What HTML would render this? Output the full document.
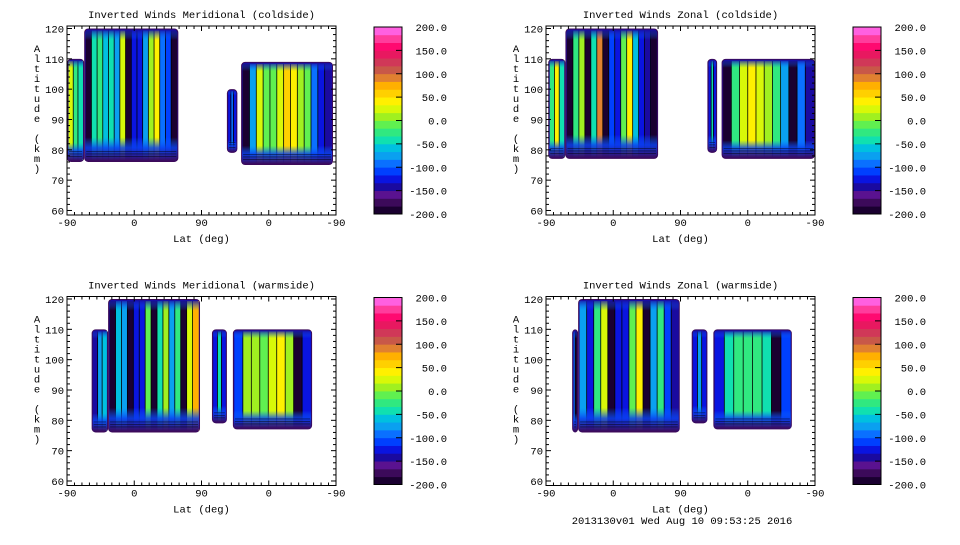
<!DOCTYPE html>
<html><head><meta charset="utf-8"><style>
body{margin:0;background:#fff;}
svg text{font-family:"Liberation Mono",monospace;font-size:10.5px;fill:#000;}
</style></head><body>
<svg id="c" width="960" height="540" xmlns="http://www.w3.org/2000/svg">
<defs>
<linearGradient id="edge" x1="0" y1="0" x2="0" y2="1">
<stop offset="0" stop-color="#1a0aa0" stop-opacity="0.9"/>
<stop offset="0.08" stop-color="#0a70ff" stop-opacity="0"/>
<stop offset="0.82" stop-color="#0a70ff" stop-opacity="0"/>
<stop offset="0.9" stop-color="#0a40f0" stop-opacity="0.85"/>
<stop offset="1" stop-color="#3c0a5a" stop-opacity="1"/>
</linearGradient>
</defs>
</svg>
<script>
// ---- data ----
const panelTitles = ["Inverted Winds Meridional (coldside)","Inverted Winds Zonal (coldside)","Inverted Winds Meridional (warmside)","Inverted Winds Zonal (warmside)"];
const latTickLabels = ["-90","0","90","0","-90"];
const altTickLabels = [60,70,80,90,100,110,120];
const cbarLabels = [200,150,100,50,0,-50,-100,-150,-200];
// regions: [u0,u1 (lat axis units 0-360), altBottom, altTop]
const regionsTL = [[0,23,76,110],[23,149,76,120],[214,228,79,100],[233,356,75,109]];
const regionsTR = [[3,26,77,110],[26,150,77,120],[216,229,79,110],[235,360,77,110]];
const regionsBL = [[33,55,76,110],[55,178,76,120],[194,214,79,110],[222,328,77,110]];
const regionsBR = [[35,43,76,110],[43,179,76,120],[195,216,79,110],[224,329,77,110]];
// column wind values (m/s) per region, left to right
const valuesTL = [[20,-30,-50],[-190,-50,-30,-60,-40,-70,20,-190,-120,-130,-70,0,40,-90,-110,-190],[-130,-100,-130],[-190,-80,30,-10,-10,20,50,40,0,-10,-90,-120,-150]];
const valuesTR = [[-20,40,-40],[-190,-30,0,-190,-40,90,-190,-110,-130,-10,40,-60,-120,-150,-190],[-130,-50,-130],[-190,-20,30,40,30,0,-30,-70,-190,-100,-140]];
const valuesBL = [[-140,-80,-60],[-190,-60,-70,-190,-120,-130,-10,-190,-50,10,-80,-30,-190,20,70],[-130,-40,-130],[-110,0,10,-10,30,40,10,-190,-130]];
const valuesBR = [[-90,-190],[-80,-130,-30,30,-190,-120,-130,-10,40,-190,-70,-20,-110,-140],[-130,-70,-130],[-130,-40,-30,-20,-20,-40,-190,-110]];

const palette=["#1a0030","#3c0a5a","#5a1290","#1a0aa0","#0a14e0","#0040ff","#0a70ff","#0aa0f0","#00c0e0","#10e0b0","#30e880","#60f050","#a0f020","#d8f808","#fff000","#ffd000","#ffb000","#e08030","#c85848","#d03858","#e81860","#ff0a70","#ff3c9c","#ff60e0"];
function col(v){let i=Math.floor((v+200)/400*24);i=Math.max(0,Math.min(23,i));return palette[i];}

const NS="http://www.w3.org/2000/svg";
const svg=document.getElementById('c');
function mk(t,a,p){const e=document.createElementNS(NS,t);for(const k in a)e.setAttribute(k,a[k]);(p||svg).appendChild(e);return e;}

const panels=[
 {x:67,y:0,regions:regionsTL,values:valuesTL},
 {x:546,y:0,regions:regionsTR,values:valuesTR},
 {x:67,y:270.5,regions:regionsBL,values:valuesBL},
 {x:546,y:270.5,regions:regionsBR,values:valuesBR}];
const PW=269;
panels.forEach((p,pi)=>{
  const g=mk('g',{});
  
  
  const xs=u=>p.x+u*PW/360;
  const ys=a=>p.y+28.5+(120-a)*3.033;
  const top=p.y+26,bot=p.y+215;
  p.regions.forEach((r,ri)=>{
    const x0=xs(r[0]),x1=xs(r[1]),y0=ys(r[3]),y1=ys(r[2]);
    const rg=mk('g',{},g);
    
    
    const w=x1-x0,h=y1-y0;
    mk('rect',{x:x0,y:y0,width:w,height:h,rx:4,fill:'#3c0a5a'},rg);
    mk('rect',{x:x0+1,y:y0+1,width:Math.max(0,w-2),height:h-2,rx:3,fill:'#1a0aa0'},rg);
    const vals=p.values[ri],n=vals.length,cw=(w-3)/n;
    vals.forEach((v,k)=>{
      const c=mk('rect',{x:x0+1.5+k*cw,y:y0+2,width:cw+0.3,height:h-4,fill:col(v)},rg);
      
      
      if(k>0)mk('line',{x1:x0+1.5+k*cw,x2:x0+1.5+k*cw,y1:y0+2,y2:y1-2,stroke:'#000','stroke-width':0.8},rg);
    });
    mk('rect',{x:x0+1,y:y0+1,width:Math.max(0,w-2),height:h-2,rx:3,fill:'url(#edge)'},rg);
    for(let k=1;k<4;k++){mk('line',{x1:x0+2,x2:x1-2,y1:y1-3-k*2.5,y2:y1-3-k*2.5,stroke:'#000','stroke-width':0.6,opacity:0.7},rg);}
  });
  const fr=mk('rect',{x:p.x,y:top,width:PW,height:bot-top,fill:'none',stroke:'#000','stroke-width':1},g);
  
  
  for(let u=0;u<=360;u+=10){const L=(u%90==0)?5:3;
    mk('line',{x1:xs(u),x2:xs(u),y1:bot,y2:bot-L,stroke:'#000'},g);
    mk('line',{x1:xs(u),x2:xs(u),y1:top,y2:top+L,stroke:'#000'},g);}
  for(let a=60;a<=120;a+=2){const L=(a%10==0)?5:3;
    mk('line',{x1:p.x,x2:p.x+L,y1:ys(a),y2:ys(a),stroke:'#000'},g);
    mk('line',{x1:p.x+PW,x2:p.x+PW-L,y1:ys(a),y2:ys(a),stroke:'#000'},g);}
  latTickLabels.forEach((l,i)=>{const t=mk('text',{x:xs(i*90),y:bot+11,'text-anchor':'middle'},g);t.textContent=l;
    });
  altTickLabels.forEach(a=>{const t=mk('text',{x:p.x-3,y:ys(a)+4,'text-anchor':'end'},g);t.textContent=a;
    });
  const ti=mk('text',{x:p.x+PW/2,y:p.y+18,'text-anchor':'middle'},g);ti.textContent=panelTitles[pi];
  
  const xl=mk('text',{x:p.x+PW/2,y:bot+27,'text-anchor':'middle'},g);xl.textContent="Lat (deg)";
  
  const yl=mk('g',{},g);
  
  "Altitude (km)".split('').forEach((ch,i)=>{const t=mk('text',{x:p.x-30,y:p.y+52+i*10,'text-anchor':'middle'},yl);t.textContent=ch;});
  const cb=mk('g',{},g);
  
  const cx=p.x+307,cyT=p.y+27,cyB=p.y+214,bh=(cyB-cyT)/24;
  for(let i=0;i<24;i++)mk('rect',{x:cx,y:cyB-(i+1)*bh,width:28,height:bh+0.4,fill:palette[i]},cb);
  mk('rect',{x:cx,y:cyT,width:28,height:cyB-cyT,fill:'none',stroke:'#000'},cb);
  cbarLabels.forEach(v=>{const yy=cyT+(200-v)/400*(cyB-cyT);
    mk('line',{x1:cx+28,x2:cx+22,y1:yy,y2:yy,stroke:'#000'},cb);
    const t=mk('text',{x:cx+73,y:yy+4,'text-anchor':'end'},cb);t.textContent=v.toFixed(1);
    });
});
const ft=mk('text',{x:682,y:524,'text-anchor':'middle'});ft.textContent="2013130v01 Wed Aug 10 09:53:25 2016";

</script>
</body></html>
